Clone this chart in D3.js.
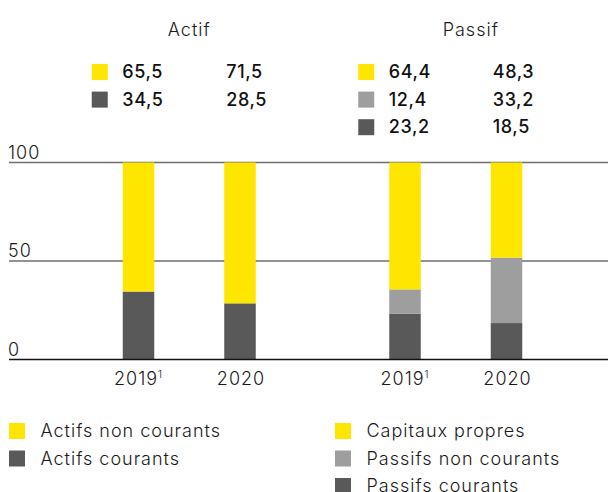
<!DOCTYPE html>
<html>
<head>
<meta charset="utf-8">
<script src="https://cdn.jsdelivr.net/npm/d3@7"></script>
<style>
  body { margin: 0; background: #fff; }
  svg { font-family: Inter, "Open Sans", sans-serif; }
  .lbl { font-size: 18px; font-weight: 300; letter-spacing: 1px; fill: #1a1a1a; }
  .val { font-size: 18px; font-weight: 500; letter-spacing: 0.6px; fill: #111; }
</style>
</head>
<body>
<div id="root"></div>
<script>
// data
const groups = ["Actif", "Passif"];
const years = ["2019", "2020"];
const footnotes = ["1", ""];
const actifsNonCourants = [65.5, 71.5];
const actifsCourants = [34.5, 28.5];
const capitauxPropres = [64.4, 48.3];
const passifsNonCourants = [12.4, 33.2];
const passifsCourants = [23.2, 18.5];
const yTicks = [0, 50, 100];

const yellow = "#ffe600", light = "#9e9e9e", dark = "#595959";

// series per group, bottom to top
const series = {
  Actif: [
    {name: "Actifs courants", color: dark, values: actifsCourants},
    {name: "Actifs non courants", color: yellow, values: actifsNonCourants}
  ],
  Passif: [
    {name: "Passifs courants", color: dark, values: passifsCourants},
    {name: "Passifs non courants", color: light, values: passifsNonCourants},
    {name: "Capitaux propres", color: yellow, values: capitauxPropres}
  ]
};

const width = 608, height = 492;

const svg = d3.select("#root").append("svg")
    .attr("width", width)
    .attr("height", height);

const x0 = d3.scaleBand()
    .domain(groups)
    .range([56, 589]);

const x1 = d3.scalePoint()
    .domain(years)
    .range([-50.75, 50.75]);

const barW = 31.5;

const y = d3.scaleLinear()
    .domain([0, 100])
    .range([359.5, 162.5]);

// grid + tick labels
svg.selectAll(".grid")
  .data(yTicks.filter(d => d > 0))
  .enter().append("line")
    .attr("class", "grid")
    .attr("x1", 9).attr("x2", width)
    .attr("y1", d => y(d)).attr("y2", d => y(d))
    .attr("stroke", "#6e6e6e")
    .attr("stroke-width", 1.3);

svg.selectAll(".ytick")
  .data(yTicks)
  .enter().append("text")
    .attr("class", "ytick lbl")
    .attr("x", 8)
    .attr("y", d => y(d) - 4)
    .text(d => d);

// bars
groups.forEach(g => {
  const keys = series[g].map(s => s.name);
  const rows = years.map((yr, i) => {
    const r = {year: yr};
    series[g].forEach(s => r[s.name] = s.values[i]);
    return r;
  });
  const stacked = d3.stack().keys(keys)(rows);
  const cx = x0(g) + x0.bandwidth() / 2;

  const layer = svg.append("g").selectAll("g")
    .data(stacked)
    .enter().append("g")
      .attr("fill", (d, i) => series[g][i].color);

  layer.selectAll("rect")
    .data(d => d)
    .enter().append("rect")
      .attr("x", d => cx + x1(d.data.year) - barW / 2)
      .attr("width", barW)
      .attr("y", d => y(d[1]))
      .attr("height", d => y(d[0]) - y(d[1]));

  // year labels
  const lab = svg.append("g").selectAll("text")
    .data(years)
    .enter().append("text")
      .attr("class", "lbl")
      .attr("x", (d, i) => cx + x1(d) + (footnotes[i] ? 0 : 1))
      .attr("y", 384.5)
      .attr("text-anchor", "middle");
  lab.append("tspan").text(d => d);
  lab.append("tspan")
      .attr("font-size", 10)
      .attr("dy", -7)
      .text((d, i) => footnotes[i]);

  // title
  svg.append("text")
      .attr("class", "lbl")
      .attr("x", g === "Actif" ? cx : cx + 15)
      .attr("y", 36)
      .attr("text-anchor", "middle")
      .text(g);

  // value legend at top (top series first)
  const top = series[g].slice().reverse();
  const vl = svg.append("g").selectAll("g")
    .data(top)
    .enter().append("g")
      .attr("transform", (d, i) => "translate(" + cx + "," + (64 + i * 27.6) + ")");
  vl.append("rect")
      .attr("x", -97.5)
      .attr("width", 16).attr("height", 16)
      .attr("fill", d => d.color);
  years.forEach((yr, j) => {
    vl.append("text")
        .attr("class", "val")
        .attr("x", j === 0 ? -67 : 37)
        .attr("y", 14)
        .text(d => d3.format(".1f")(d.values[j]).replace(".", ","));
  });

  // bottom legend
  const bl = svg.append("g").selectAll("g")
    .data(top)
    .enter().append("g")
      .attr("transform", (d, i) => "translate(" + (g === "Actif" ? 9 : 335) + "," + (423 + i * 27.5) + ")");
  bl.append("rect")
      .attr("width", 16).attr("height", 16)
      .attr("fill", d => d.color);
  bl.append("text")
      .attr("class", "lbl")
      .attr("x", 31.5)
      .attr("y", 14)
      .text(d => d.name);
});

// baseline
svg.append("line")
    .attr("x1", 9).attr("x2", width)
    .attr("y1", y(0)).attr("y2", y(0))
    .attr("stroke", "#111")
    .attr("stroke-width", 1.3);
</script>
</body>
</html>
